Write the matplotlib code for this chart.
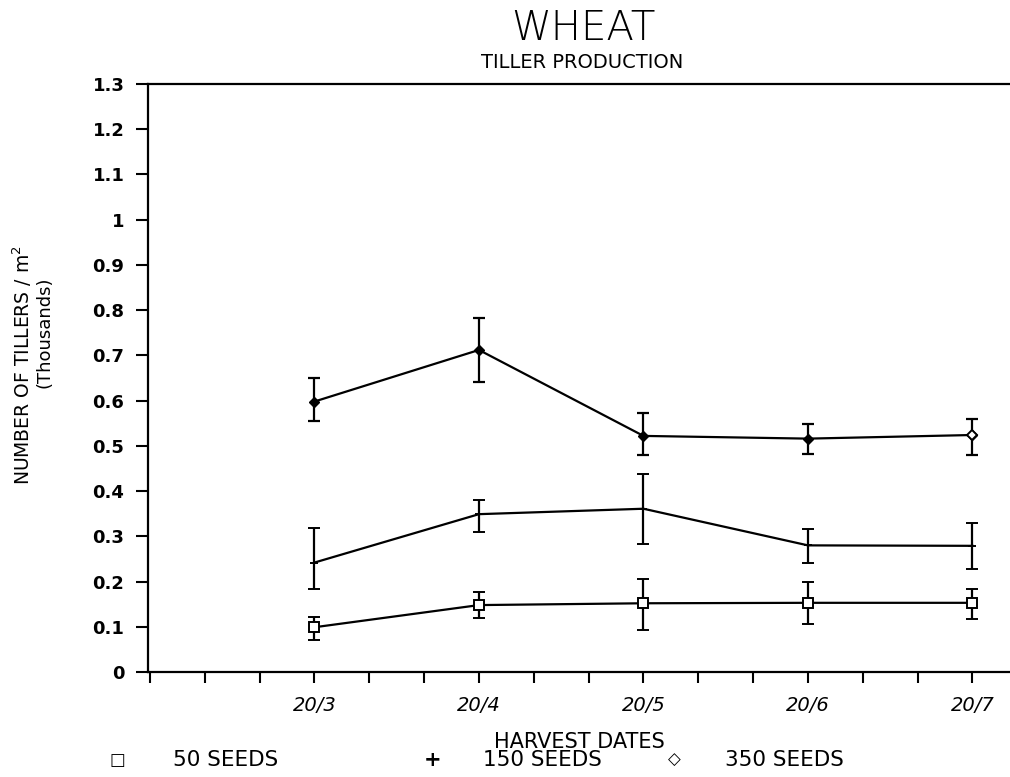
import numpy as np
import matplotlib
matplotlib.use('Agg')
import matplotlib.pyplot as plt

# data (thousands of tillers / m2)
dates = ['20/3', '20/4', '20/5', '20/6', '20/7']

s50 = [0.099, 0.148, 0.152, 0.153, 0.153]
s50_lo = [0.071, 0.119, 0.094, 0.106, 0.117]
s50_hi = [0.122, 0.178, 0.205, 0.198, 0.184]

s150 = [0.242, 0.349, 0.361, 0.280, 0.279]
s150_lo = [0.183, 0.309, 0.283, 0.242, 0.228]
s150_hi = [0.318, 0.381, 0.438, 0.316, 0.329]

s350 = [0.598, 0.712, 0.522, 0.516, 0.524]
s350_lo = [0.555, 0.642, 0.480, 0.482, 0.480]
s350_hi = [0.650, 0.782, 0.572, 0.549, 0.559]

yticks = [0, 0.1, 0.2, 0.3, 0.4, 0.5, 0.6, 0.7, 0.8, 0.9, 1.0, 1.1, 1.2, 1.3]
ytick_labels = ['0', '0.1', '0.2', '0.3', '0.4', '0.5', '0.6', '0.7',
                '0.8', '0.9', '1', '1.1', '1.2', '1.3']

fig = plt.figure(figsize=(10.1, 7.77), dpi=100)
ax = fig.add_axes([0.1465, 0.1351, 0.853, 0.7568])

x = np.arange(len(dates))


def errs(v, lo, hi):
    v, lo, hi = np.array(v), np.array(lo), np.array(hi)
    return [v - lo, hi - v]


kw = dict(color='black', lw=1.6, elinewidth=1.6, capsize=4.5, capthick=1.6)
ax.errorbar(x, s50, yerr=errs(s50, s50_lo, s50_hi), marker='s', ms=7,
            mfc='white', mec='black', mew=1.4, **kw)
ax.errorbar(x, s150, yerr=errs(s150, s150_lo, s150_hi), marker='+', ms=6,
            mew=1.4, **kw)
ax.errorbar(x, s350, yerr=errs(s350, s350_lo, s350_hi), marker='D', ms=5,
            mfc='black', mec='black', **kw)
# last 350 seeds point is drawn hollow in the original
ax.plot(x[-1:], s350[-1:], 'D', ms=5.5, mfc='white', mec='black', mew=1.4, zorder=5)

ax.set_xlim(-1.012, 4.225)
ax.set_ylim(0, 1.3)

# ticks every third of a date step, labels on the dates only
tpos = np.arange(-3, 13) / 3
ax.set_xticks(tpos)
ax.set_xticklabels([dates[int(round(t))] if abs(t - round(t)) < 1e-6 and t >= 0 else ''
                    for t in tpos], fontsize=14, fontstyle='italic')
ax.set_yticks(yticks)
ax.set_yticklabels(ytick_labels, fontsize=13, fontweight='bold')
ax.tick_params(axis='x', direction='out', length=8, width=1.5, pad=9)
ax.tick_params(axis='y', direction='out', length=9, width=1.5, pad=8)

for s in ['left', 'bottom', 'top']:
    ax.spines[s].set_linewidth(1.6)
ax.spines['right'].set_visible(False)

fig.text(0.578, 0.963, 'WHEAT', ha='center', va='center', fontsize=29,
         fontweight='light')
fig.text(0.576, 0.919, 'TILLER PRODUCTION', ha='center', va='center', fontsize=14)

fig.text(0.022, 0.53, 'NUMBER OF TILLERS / m$^2$', rotation=90, ha='center',
         va='center', fontsize=13.5)
fig.text(0.044, 0.573, '(Thousands)', rotation=90, ha='center', va='center',
         fontsize=13)

fig.text(0.574, 0.045, 'HARVEST DATES', ha='center', va='center', fontsize=15)

fig.text(0.116, 0.022, '\u25a1', ha='center', va='center', fontsize=12, fontweight='bold')
fig.text(0.171, 0.022, '50 SEEDS', ha='left', va='center', fontsize=15.5)
fig.text(0.428, 0.022, '+', ha='center', va='center', fontsize=15, fontweight='bold')
fig.text(0.478, 0.022, '150 SEEDS', ha='left', va='center', fontsize=15.5)
fig.text(0.668, 0.022, '\u25c7', ha='center', va='center', fontsize=12, fontweight='bold')
fig.text(0.718, 0.022, '350 SEEDS', ha='left', va='center', fontsize=15.5)

fig.savefig('out.png', dpi=100)
